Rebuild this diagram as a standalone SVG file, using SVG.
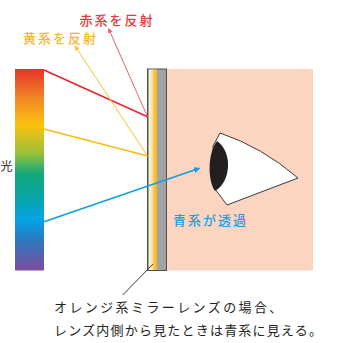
<svg xmlns="http://www.w3.org/2000/svg" width="338" height="343" viewBox="0 0 338 343">
<defs>
<linearGradient id="spec" x1="0" y1="0" x2="0" y2="1">
<stop offset="0" stop-color="#e8332a"/>
<stop offset="0.15" stop-color="#f08a24"/>
<stop offset="0.28" stop-color="#fbc20f"/>
<stop offset="0.42" stop-color="#99c13b"/>
<stop offset="0.52" stop-color="#13a87a"/>
<stop offset="0.62" stop-color="#0aa59f"/>
<stop offset="0.75" stop-color="#04a3e6"/>
<stop offset="0.84" stop-color="#2a7cc2"/>
<stop offset="1" stop-color="#7d4b9c"/>
</linearGradient>
<linearGradient id="lensy" x1="0" y1="0" x2="1" y2="0">
<stop offset="0" stop-color="#fff3d6"/>
<stop offset="0.4" stop-color="#fde3a2"/>
<stop offset="0.6" stop-color="#fcc646"/>
<stop offset="1" stop-color="#f8b21c"/>
</linearGradient>
<marker id="ar" viewBox="0 0 10 10" refX="9" refY="5" markerWidth="5" markerHeight="5" orient="auto" markerUnits="userSpaceOnUse">
<path d="M0,0 L10,5 L0,10 Z" fill="#ee5e6c"/>
</marker>
<marker id="ay" viewBox="0 0 10 10" refX="9" refY="5" markerWidth="5" markerHeight="5" orient="auto" markerUnits="userSpaceOnUse">
<path d="M0,0 L10,5 L0,10 Z" fill="#fcc12e"/>
</marker>
<marker id="ab" viewBox="0 0 10 10" refX="9" refY="5" markerWidth="6" markerHeight="6" orient="auto" markerUnits="userSpaceOnUse">
<path d="M0,0 L10,5 L0,10 Z" fill="#0ea0e2"/>
</marker>
</defs>
<style>
text{font-family:"Noto Sans CJK JP","Noto Sans CJK SC",sans-serif;font-size:13px;font-weight:500}
.lbl{letter-spacing:2px}
.note{fill:#231f20;font-weight:400}
</style>
<g id="background">
<rect x="166.5" y="69" width="146.5" height="201.5" fill="#fcd5c1"/>
</g>
<g id="spectrum">
<rect x="15" y="69" width="29" height="201.5" fill="url(#spec)"/>
<text x="0.5" y="170.5" style="font-size:12px;fill:#231f20;font-weight:400">光</text>
</g>
<g id="lens">
<rect x="147.5" y="69" width="19" height="201.5" fill="#a3a3a6" stroke="#4f4f52" stroke-width="1"/>
<rect x="149" y="69.5" width="8" height="200.5" fill="url(#lensy)"/>
</g>
<g id="connectors" fill="none">
<polyline points="44,70 147.5,116.7" stroke="#e8252f" stroke-width="1.6"/>
<line x1="147.5" y1="116.7" x2="108.5" y2="28.5" stroke="#ee5e6c" stroke-width="1" marker-end="url(#ar)"/>
<polyline points="44,129 147.5,156" stroke="#fbbd12" stroke-width="1.6"/>
<line x1="147.5" y1="156" x2="75" y2="46" stroke="#fcc12e" stroke-width="1" marker-end="url(#ay)"/>
<line x1="44" y1="221.7" x2="199.5" y2="168.3" stroke="#0ea0e2" stroke-width="1.6" marker-end="url(#ab)"/>
<line x1="153" y1="264" x2="122.7" y2="295" stroke="#3a3a3c" stroke-width="1"/>
</g>
<g id="eye">
<path d="M220,133 Q262,147 298,178 L227,205 L215,189 L213,146 Z" fill="#ffffff" stroke="#3a3a3c" stroke-width="1"/>
<path d="M217,141 C208,152 207,180 215,191 C231,182 233,152 217,141 Z" fill="#231f20"/>
</g>
<g id="labels">
<text class="lbl" x="79.5" y="25" fill="#e9363f">赤系を反射</text>
<text class="lbl" x="23" y="42.5" fill="#f9b52a">黄系を反射</text>
<text class="lbl" x="173" y="224.5" fill="#1a9fe0">青系が透過</text>
</g>
<g id="caption">
<text class="note" x="54" y="312" style="letter-spacing:2.4px">オレンジ系ミラーレンズの場合、</text>
<text class="note" x="54" y="335" style="letter-spacing:1.2px">レンズ内側から見たときは青系に見える。</text>
</g>
</svg>
